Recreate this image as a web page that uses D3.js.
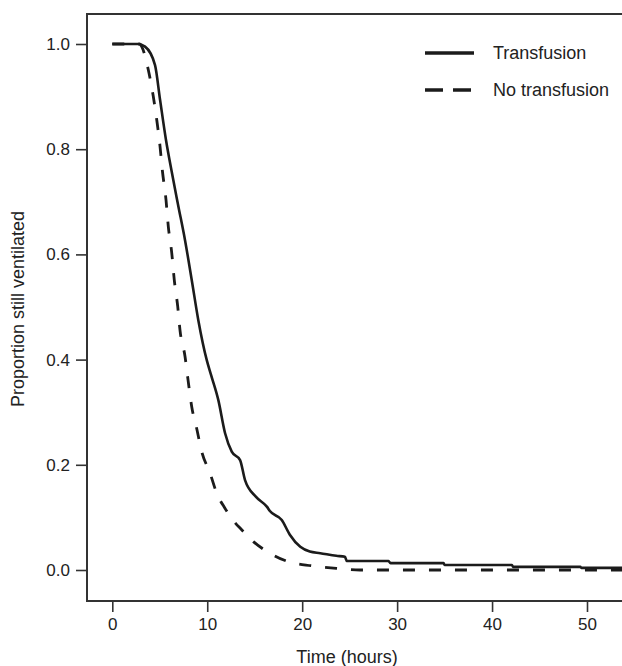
<!DOCTYPE html>
<html>
<head>
<meta charset="utf-8">
<script src="https://cdn.jsdelivr.net/npm/d3@7"></script>
<style>
  html, body { margin: 0; padding: 0; background: #fff; }
  svg { display: block; font-family: "Liberation Sans", Arial, sans-serif; }
</style>
</head>
<body>
<svg id="chart" width="622" height="666"></svg>
<script>
// Kaplan–Meier style curves: proportion of patients still ventilated over time
const transfusionTime = [0, 2.7, 3.45, 4.5, 5.03, 5.66, 6.26, 6.92, 7.66, 8.37, 9.06, 9.95, 10.4, 11.17, 11.88, 12.58, 13.46, 13.98, 15.14, 16.3, 16.6, 17.85, 18.7, 19.8, 20.8, 21.9, 23.6, 24.5, 24.7, 29.1, 29.3, 34.9, 35.0, 42.1, 42.2, 49.3, 49.4, 56];
const transfusionProp = [1, 1, 0.995, 0.96, 0.894, 0.817, 0.757, 0.695, 0.627, 0.551, 0.475, 0.399, 0.371, 0.323, 0.26, 0.225, 0.209, 0.171, 0.139, 0.12, 0.112, 0.095, 0.067, 0.044, 0.035, 0.032, 0.027, 0.025, 0.017, 0.017, 0.013, 0.013, 0.0095, 0.0095, 0.006, 0.006, 0.004, 0.004];

const noTransfusionTime = [0, 2.9, 3.1, 3.79, 4.32, 4.68, 5.03, 5.27, 5.66, 5.9, 6.26, 6.53, 6.89, 7.13, 7.66, 7.98, 8.37, 8.89, 9.42, 10.3, 11.0, 11.88, 12.7, 13.6, 14.86, 16.6, 18.5, 21.0, 23.6, 26.1, 56];
const noTransfusionProp = [1, 1, 0.995, 0.951, 0.9, 0.856, 0.805, 0.76, 0.703, 0.653, 0.603, 0.551, 0.501, 0.456, 0.406, 0.361, 0.31, 0.269, 0.225, 0.184, 0.146, 0.117, 0.095, 0.077, 0.054, 0.032, 0.016, 0.008, 0.003, 0, 0];

const xTicks = [0, 10, 20, 30, 40, 50];
const yTicks = [0, 0.2, 0.4, 0.6, 0.8, 1.0];
const seriesNames = ["Transfusion", "No transfusion"];

const svg = d3.select("#chart");
const frame = { left: 87, top: 14, right: 640, bottom: 601 };

const x = d3.scaleLinear().domain([0, 50]).range([112.3, 587]);
const y = d3.scaleLinear().domain([0, 1]).range([570, 44]);

const ink = "#1b1b1b";
const textColor = "#222";
const fontStack = "'Liberation Sans', Arial, sans-serif";

svg.append("defs").append("clipPath").attr("id", "plotClip")
  .append("rect")
  .attr("x", frame.left).attr("y", frame.top)
  .attr("width", frame.right - frame.left).attr("height", frame.bottom - frame.top);

// Y axis (ticks outside the frame's left edge)
const yAxis = svg.append("g")
  .attr("transform", `translate(${frame.left},0)`)
  .call(d3.axisLeft(y).tickValues(yTicks).tickFormat(d3.format(".1f")).tickSize(11).tickPadding(6));
yAxis.select(".domain").remove();
yAxis.selectAll("line").attr("stroke", "#333").attr("stroke-width", 1.6);
yAxis.selectAll("text").attr("fill", textColor).style("font-size", "17px").style("font-family", fontStack);

// X axis (ticks below the frame's bottom edge)
const xAxis = svg.append("g")
  .attr("transform", `translate(0,${frame.bottom})`)
  .call(d3.axisBottom(x).tickValues(xTicks).tickFormat(d3.format("d")).tickSize(11).tickPadding(6));
xAxis.select(".domain").remove();
xAxis.selectAll("line").attr("stroke", "#333").attr("stroke-width", 1.6);
xAxis.selectAll("text").attr("fill", textColor).style("font-size", "17px").style("font-family", fontStack);

// Plot frame
svg.append("rect")
  .attr("x", frame.left).attr("y", frame.top)
  .attr("width", frame.right - frame.left).attr("height", frame.bottom - frame.top)
  .attr("fill", "none").attr("stroke", "#333").attr("stroke-width", 2);

// Curves
const line = d3.line().x(d => x(d[0])).y(d => y(d[1])).curve(d3.curveMonotoneX);
const plot = svg.append("g").attr("clip-path", "url(#plotClip)");

plot.append("path")
  .datum(d3.zip(noTransfusionTime, noTransfusionProp))
  .attr("d", line)
  .attr("fill", "none").attr("stroke", ink).attr("stroke-width", 2.8)
  .attr("stroke-dasharray", "12,14");

plot.append("path")
  .datum(d3.zip(transfusionTime, transfusionProp))
  .attr("d", line)
  .attr("fill", "none").attr("stroke", ink).attr("stroke-width", 2.6)
  .attr("stroke-linejoin", "round");

// Axis titles
svg.append("text")
  .attr("x", 347).attr("y", 663)
  .attr("text-anchor", "middle").attr("fill", textColor)
  .style("font-size", "18px")
  .text("Time (hours)");

svg.append("text")
  .attr("transform", "translate(24,309) rotate(-90)")
  .attr("text-anchor", "middle").attr("fill", textColor)
  .style("font-size", "18px")
  .text("Proportion still ventilated");

// Legend
const legend = svg.append("g");
const legendRows = [
  { name: seriesNames[0], y: 53, dash: null },
  { name: seriesNames[1], y: 90, dash: "18,10" }
];
legendRows.forEach(r => {
  legend.append("line")
    .attr("x1", 425).attr("x2", 474).attr("y1", r.y).attr("y2", r.y)
    .attr("stroke", ink).attr("stroke-width", 3.4)
    .attr("stroke-dasharray", r.dash);
  legend.append("text")
    .attr("x", 493).attr("y", r.y).attr("dy", "0.35em")
    .attr("fill", textColor).style("font-size", "18px")
    .text(r.name);
});
</script>
</body>
</html>
